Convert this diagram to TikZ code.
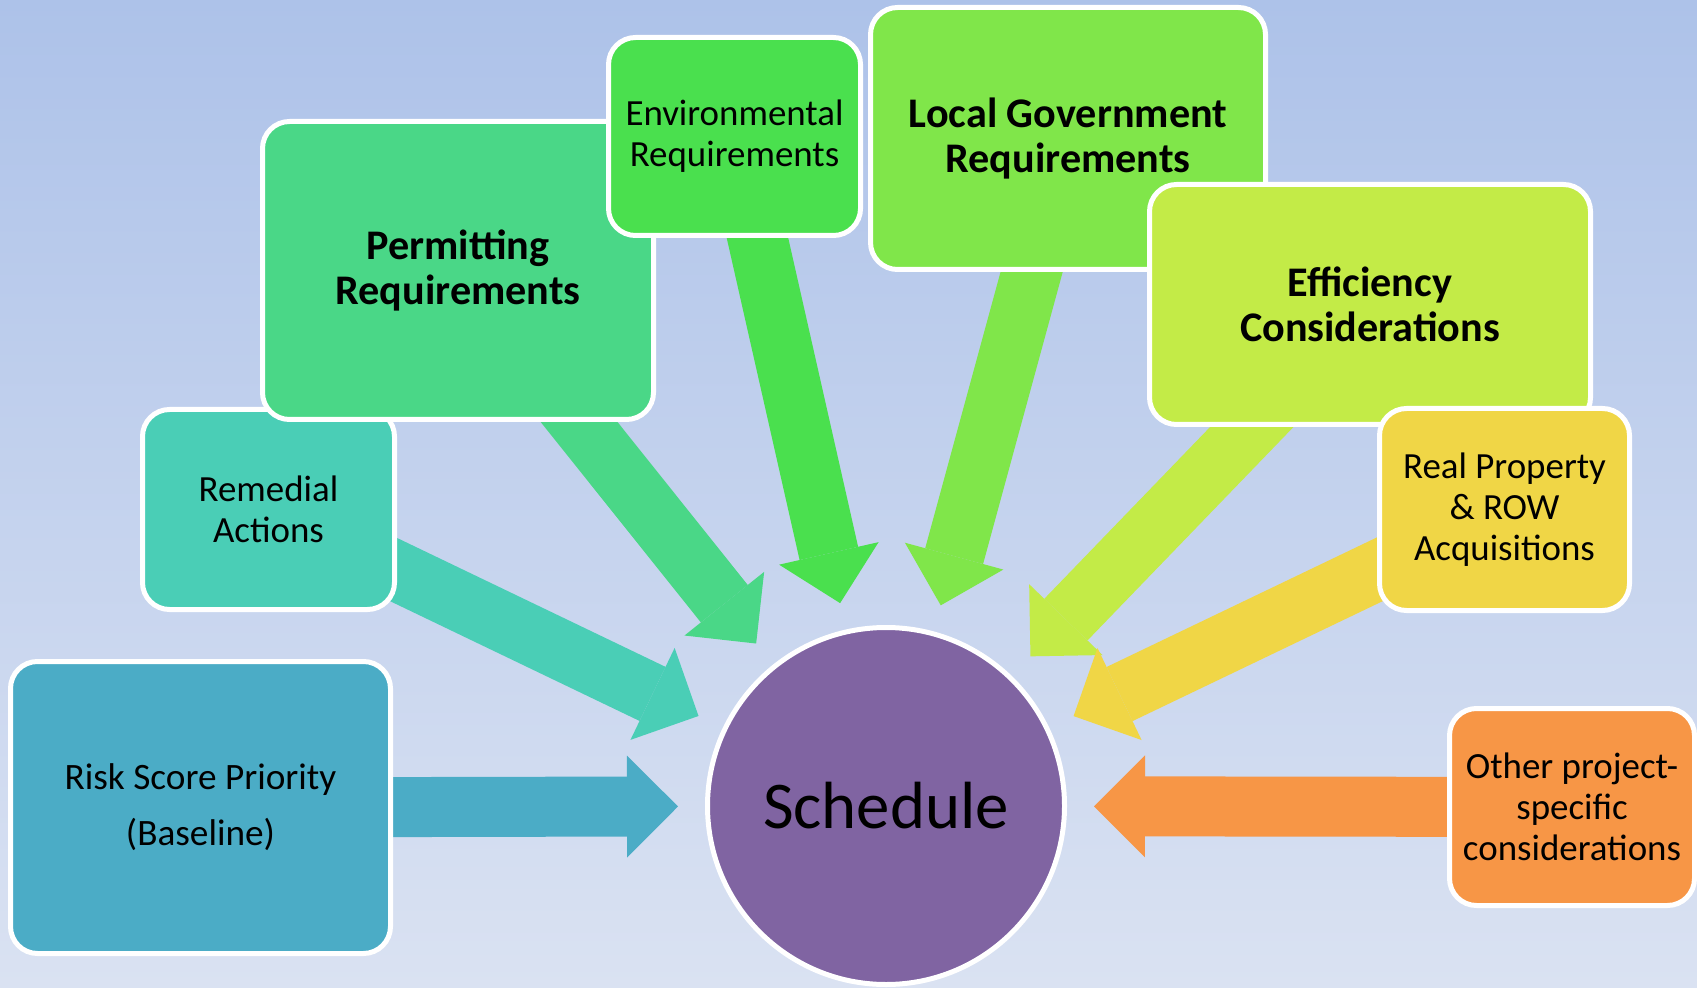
\documentclass[tikz,border=0pt]{standalone}
\usepackage{fontspec}
\setmainfont{Carlito}
\usetikzlibrary{arrows.meta}
\pgfdeclarelayer{fond}
\pgfsetlayers{fond,main}
\definecolor{cielhaut}{HTML}{ADC2E9}
\definecolor{cielbas}{HTML}{DAE2F2}
\definecolor{bleu}{HTML}{4BACC6}
\definecolor{turquoise}{HTML}{4ACEB6}
\definecolor{vertmer}{HTML}{4AD787}
\definecolor{vertvif}{HTML}{4AE04E}
\definecolor{vertpomme}{HTML}{80E64A}
\definecolor{anis}{HTML}{C3EB47}
\definecolor{jaune}{HTML}{F0D646}
\definecolor{abricot}{HTML}{F79646}
\definecolor{mauve}{HTML}{8064A2}
\newcommand{\taillebase}{\fontsize{10.5pt}{11.7pt}\selectfont}
\newcommand{\taillerisque}{\fontsize{10.6pt}{16pt}\selectfont}
\newcommand{\taillegras}{\fontsize{12pt}{12.9pt}\selectfont\bfseries}
\newcommand{\taillecentre}{\fontsize{19pt}{22pt}\selectfont}
\begin{document}
\begin{tikzpicture}[x=0.1mm, y=-0.1mm]
\tikzstyle{boite}=[draw=white, line width=0.5mm, rounded corners=2.7mm, align=center, inner sep=0pt, font=\taillebase];
\tikzstyle{gras}=[font=\taillegras];
\tikzstyle{rond}=[draw=white, line width=0.5mm, circle, fill=mauve, minimum size=35.7mm, font=\taillecentre];
\tikzstyle{fleche}=[line width=6mm, shorten >=2.7mm, -{Triangle[length=5.1mm, width=10.2mm, line width=0pt]}];
\useasboundingbox (0,0) rectangle (1697,987);
\begin{pgfonlayer}{fond}
\shade[top color=cielhaut, bottom color=cielbas] (0,0) rectangle (1697,987);
\end{pgfonlayer}

\node[rond] (planning) at (886,806) {Schedule};
\node[boite, fill=bleu, minimum width=38mm, minimum height=29.2mm, font=\taillerisque] (risque) at (200.5,807.5) {Risk Score Priority\\(Baseline)};
\node[boite, fill=turquoise, minimum width=25.2mm, minimum height=20mm] (remede) at (268.5,509.5) {Remedial\\Actions};
\node[boite, gras, fill=vertmer, minimum width=39.1mm, minimum height=29.8mm] (permis) at (458,270.5) {Permitting\\Requirements};
\node[boite, fill=vertvif, minimum width=25.2mm, minimum height=19.8mm] (environ) at (734.5,136.5) {Environmental\\Requirements};
\node[boite, gras, fill=vertpomme, minimum width=39.5mm, minimum height=26.2mm] (local) at (1068,138.5) {Local Government\\Requirements};
\node[boite, gras, fill=anis, minimum width=44.1mm, minimum height=24mm] (efficace) at (1370,304.5) {Efficiency\\Considerations};
\node[boite, fill=jaune, minimum width=25mm, minimum height=20.2mm] (foncier) at (1504.5,509.5) {Real Property\\\& ROW\\Acquisitions};
\node[boite, fill=abricot, minimum width=24.5mm, minimum height=19.7mm] (autre) at (1572,807) {Other project-\\specific\\considerations};

\begin{pgfonlayer}{fond}
\draw[fleche, bleu] (risque.center) -- (planning);
\draw[fleche, turquoise] (remede.center) -- (planning);
\draw[fleche, vertmer] (permis.center) -- (planning);
\draw[fleche, vertvif] (environ.center) -- (planning);
\draw[fleche, vertpomme] (local.center) -- (planning);
\draw[fleche, anis] (efficace.center) -- (planning);
\draw[fleche, jaune] (foncier.center) -- (planning);
\draw[fleche, abricot] (autre.center) -- (planning);
\end{pgfonlayer}
\end{tikzpicture}
\end{document}
